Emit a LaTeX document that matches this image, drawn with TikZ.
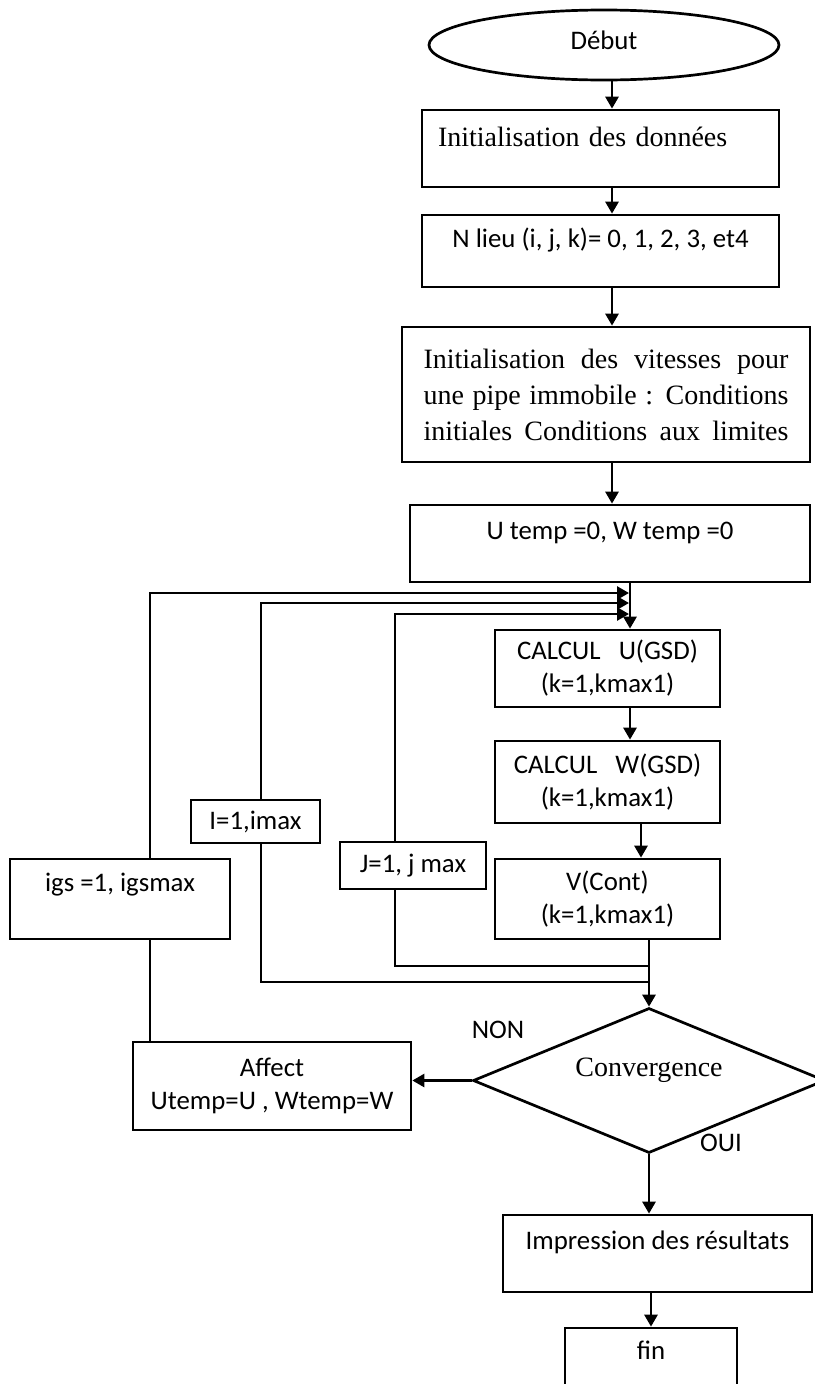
\documentclass[tikz,border=0pt]{standalone}
\usepackage{fontspec}
\setmainfont{Liberation Serif}
\setsansfont{Carlito}
\usetikzlibrary{arrows.meta,shapes.geometric}

\begin{document}
\begin{tikzpicture}[x=1pt, y=-1pt, line width=2.7pt,
    every node/.style={font=\fontsize{26.8}{33}\selectfont\sffamily, inner sep=0pt},
    serif/.style={font=\fontsize{28}{36}\selectfont\rmfamily},
    box/.style={draw, rectangle, align=center},
    lift/.style={text height=20pt, text depth=#1},
    arr/.style={-{Triangle[width=13pt, length=12pt]}}]
    \useasboundingbox (0,0) rectangle (814,1384);

    \node[draw, ellipse, minimum width=350, minimum height=70, lift=12pt] (debut) at (604,45) {Début};
    \node[box, serif, minimum width=357, minimum height=77, text width=325, align=left, lift=25pt] (init) at (600.5,148.5) {Initialisation des données};
    \node[box, minimum width=357, minimum height=72, lift=28pt] (nlieu) at (600.5,251) {N lieu (i, j, k)= 0, 1, 2, 3, et4};
    \node[box, serif, minimum width=408, minimum height=135] (cond) at (606,394.5)
        {\makebox[365pt][s]{Initialisation des vitesses pour}\\
         \makebox[365pt][s]{une pipe immobile : Conditions}\\
         \makebox[365pt][s]{initiales Conditions aux limites}};
    \node[box, minimum width=400, minimum height=77, lift=28pt] (utemp) at (610,543.5) {U temp =0, W temp =0};

    \node[box, minimum width=225, minimum height=77] (calcu) at (607.5,668.5) {CALCUL\ \ \ U(GSD)\\(k=1,kmax1)};
    \node[box, minimum width=225, minimum height=82] (calcw) at (607.5,782) {CALCUL\ \ \ W(GSD)\\(k=1,kmax1)};
    \node[box, minimum width=225, minimum height=80] (vcont) at (607.5,899) {V(Cont)\\(k=1,kmax1)};

    \node[box, minimum width=129, minimum height=43] (iloop) at (255.5,821.5) {I=1,imax};
    \node[box, minimum width=146, minimum height=47] (jloop) at (413,865.5) {J=1, j max};
    \node[box, minimum width=220, minimum height=80, lift=36pt] (igs) at (120,899) {igs =1, igsmax};

    \node[draw, diamond, aspect=2.4, minimum width=352, minimum height=145, serif, lift=29pt] (conv) at (649,1080.5) {Convergence};
    \node (non) at (498,1030) {NON};
    \node (oui) at (721,1143) {OUI};
    \node[box, minimum width=278, minimum height=88] (affect) at (272,1086) {Affect\\Utemp=U , Wtemp=W};

    \node[box, minimum width=309, minimum height=77, lift=29pt] (impr) at (657.5,1253.5) {Impression des résultats};
    \node[box, minimum width=172, minimum height=77, lift=35pt] (fin) at (651,1366.5) {fin};

    \coordinate (colA) at (612,0);
    \coordinate (colB) at (630,0);
    \coordinate (colC) at (641,0);
    \coordinate (igs-x) at (150,0);
    \coordinate (iloop-x) at (261,0);
    \coordinate (jloop-x) at (395,0);
    \coordinate (tipA) at (629,593);
    \coordinate (tipB) at (629,603);
    \coordinate (tipC) at (629,614);
    \coordinate (joinJ) at (649,966);
    \coordinate (joinI) at (649,982);

    \foreach \a/\b in {debut/init, init/nlieu, nlieu/cond, cond/utemp}
        \draw[arr] (\a.south -| colA) -- (\b.north -| colA);
    \draw[arr] (utemp.south -| colB) -- (calcu.north -| colB);
    \draw[arr] (calcu.south -| colB) -- (calcw.north -| colB);
    \draw[arr] (calcw.south -| colC) -- (vcont.north -| colC);
    \draw[arr] (vcont.south -| conv.north) -- (conv.north);
    \draw (joinJ) -| (jloop.south -| jloop-x);
    \draw (joinI) -| (iloop.south -| iloop-x);
    \draw (affect.north -| igs-x) -- (igs.south -| igs-x);
    \foreach \b/\t in {igs/tipA, iloop/tipB, jloop/tipC}
        \draw[arr] (\b.north -| \b-x) |- (\t);
    \draw[arr] (conv.west) -- (conv.west -| affect.east);
    \draw[arr] (conv.south) -- (impr.north -| conv.south);
    \draw[arr] (impr.south -| fin.north) -- (fin.north);
\end{tikzpicture}
\end{document}
